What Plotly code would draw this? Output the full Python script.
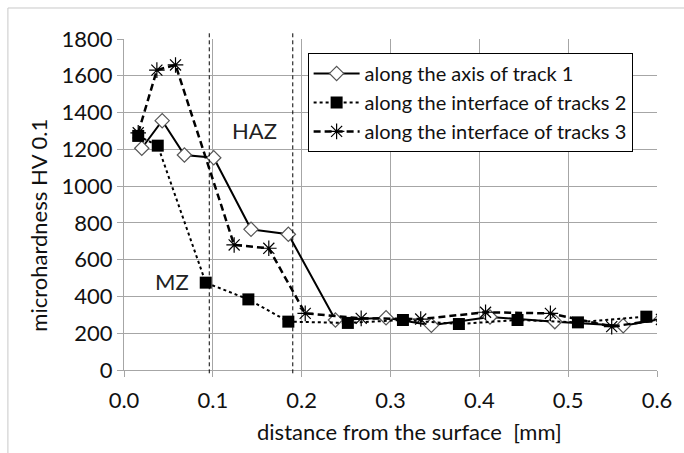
import plotly.graph_objects as go

# --- data ---
s1_x = [0.020, 0.043, 0.068, 0.101, 0.143, 0.185, 0.238, 0.295, 0.346, 0.412, 0.485, 0.562, 0.605]
s1_y = [1206, 1356, 1169, 1154, 765, 738, 272, 284, 243, 288, 263, 241, 278]

s2_x = [0.016, 0.038, 0.092, 0.140, 0.185, 0.252, 0.314, 0.377, 0.443, 0.511, 0.588]
s2_y = [1273, 1220, 475, 384, 263, 256, 272, 250, 272, 259, 290]

s3_x = [0.016, 0.037, 0.058, 0.124, 0.163, 0.204, 0.267, 0.334, 0.407, 0.480, 0.549, 0.605]
s3_y = [1290, 1631, 1659, 680, 662, 308, 281, 277, 314, 308, 236, 275]

names = ["along the axis of track 1",
         "along the interface of tracks 2",
         "along the interface of tracks 3"]

zone_lines = [0.096, 0.190]
zone_labels = ["HAZ", "MZ"]
zone_label_x = [0.1464, 0.0542]
zone_label_y = [1300, 484]

x_ticks = [0.0, 0.1, 0.2, 0.3, 0.4, 0.5, 0.6]
x_ticktext = ["0.0", "0.1", "0.2", "0.3", "0.4", "0.5", "0.6"]
y_ticks = [0, 200, 400, 600, 800, 1000, 1200, 1400, 1600, 1800]

FONT = "Lato, 'Open Sans', sans-serif"
GRID = "#a6a6a6"
TXT = "#111111"

fig = go.Figure()
fig.add_trace(go.Scatter(
    x=s1_x, y=s1_y, name=names[0], mode="lines+markers", legendgroup="a",
    line=dict(color="black", width=2, dash="solid"),
    marker=dict(symbol="diamond", size=11, color="white",
                line=dict(color="#555555", width=1.2))))
fig.add_trace(go.Scatter(
    x=s2_x, y=s2_y, name=names[1], mode="lines+markers", legendgroup="b",
    line=dict(color="black", width=2, dash="dot"),
    marker=dict(symbol="square", size=12, color="black")))
fig.add_trace(go.Scatter(
    x=s3_x, y=s3_y, name=names[2], mode="lines+markers", legendgroup="c",
    line=dict(color="black", width=2.5, dash="7px,4px"),
    marker=dict(symbol="asterisk-open", size=13, color="black",
                line=dict(color="black", width=1.2))))

for xv in zone_lines:
    fig.add_shape(type="line", xref="x", yref="paper", x0=xv, x1=xv,
                  y0=-0.01, y1=1.018,
                  line=dict(color="black", width=1, dash="4px,3px"))

for t, xv, yv in zip(zone_labels, zone_label_x, zone_label_y):
    fig.add_annotation(x=xv, y=yv, xref="x", yref="y", text=t, showarrow=False,
                       font=dict(family=FONT, size=22, color="#222222"))

# frame of the chart area (only the left and top edges are visible in the crop)
fig.add_shape(type="rect", xref="paper", yref="paper",
              x0=-0.2178, x1=1.2, y0=-0.5, y1=1.0937,
              line=dict(color="#c8c8c8", width=1), layer="below")

fig.add_annotation(x=-0.162, y=0.438, xref="paper", yref="paper",
                   xanchor="center", yanchor="middle",
                   text="microhardness HV 0.1", textangle=-90, showarrow=False,
                   font=dict(family=FONT, size=22, color=TXT))
fig.add_annotation(x=0.536, y=-0.187, xref="paper", yref="paper",
                   xanchor="center", yanchor="middle",
                   text="distance from the surface  [mm]", showarrow=False,
                   font=dict(family=FONT, size=22, color=TXT))

fig.update_layout(
    width=684, height=453,
    margin=dict(l=124, r=23, t=39, b=83),
    paper_bgcolor="white", plot_bgcolor="white",
    font=dict(family=FONT, size=22, color=TXT),
    legend=dict(x=0.3445, y=0.958, xanchor="left", yanchor="top",
                bgcolor="white", bordercolor="black", borderwidth=1,
                font=dict(family=FONT, size=20, color=TXT),
                tracegroupgap=0, itemwidth=46),
    showlegend=True,
)
fig.update_xaxes(range=[0, 0.6], tickvals=x_ticks, ticktext=x_ticktext,
                 showgrid=True, gridcolor=GRID, gridwidth=1,
                 showline=True, linecolor=GRID, linewidth=1,
                 ticks="outside", ticklen=6, tickcolor=GRID,
                 ticklabelstandoff=5,
                 zeroline=False, mirror=False,
                 tickfont=dict(family=FONT, size=22, color=TXT))
fig.update_yaxes(range=[0, 1800], tickvals=y_ticks,
                 showgrid=True, gridcolor=GRID, gridwidth=1,
                 showline=True, linecolor=GRID, linewidth=1,
                 ticks="outside", ticklen=6, tickcolor=GRID,
                 zeroline=False,
                 tickfont=dict(family=FONT, size=22, color=TXT))

fig.write_html("out.html")
